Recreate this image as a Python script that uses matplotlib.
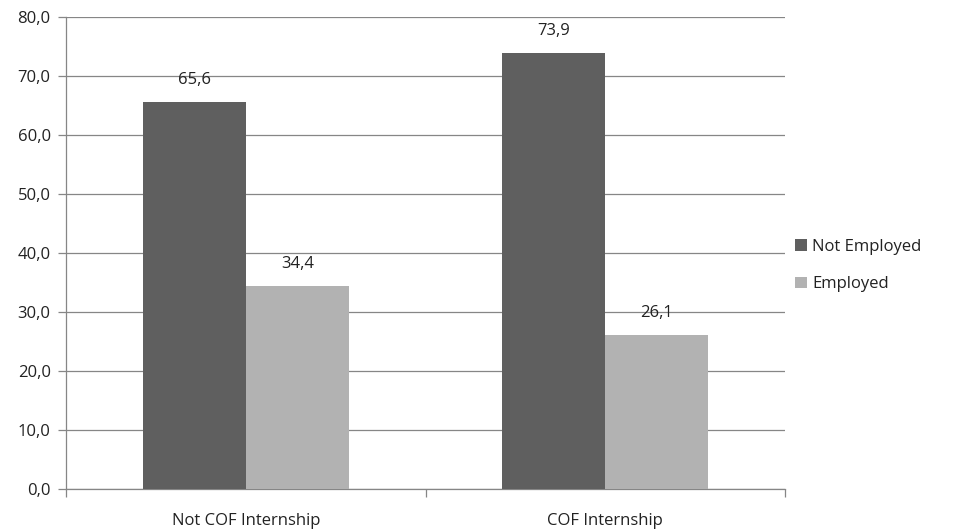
import numpy as np
import matplotlib.pyplot as plt
from matplotlib.ticker import FuncFormatter

# Employment share by internship group (%)
groups = ["Not COF Internship", "COF Internship"]
not_employed = [65.6, 73.9]
employed = [34.4, 26.1]

dark = "#5f5f5f"
light = "#b2b2b2"
axis_grey = "#868686"
fs = 12

plt.rcParams['font.family'] = ['Open Sans', 'DejaVu Sans']

fig = plt.figure(figsize=(9.6, 5.31), dpi=100)
ax = fig.add_axes([0.06875, 0.0791, 0.749, 0.8898])

x = np.arange(len(groups))
w = 0.287

b1 = ax.bar(x - w/2, not_employed, w, color=dark, label="Not Employed", zorder=3)
b2 = ax.bar(x + w/2, employed, w, color=light, label="Employed", zorder=3)

for bars in (b1, b2):
    for rect in bars:
        h = rect.get_height()
        ax.annotate(f"{h:.1f}".replace(".", ","),
                    (rect.get_x() + rect.get_width()/2, h),
                    xytext=(0, 10), textcoords="offset points",
                    ha="center", va="bottom", fontsize=fs, color="#222222")

ax.set_xlim(-0.5, 1.5)
ax.set_ylim(0, 80)
ax.set_yticks(np.arange(0, 81, 10))
ax.yaxis.set_major_formatter(FuncFormatter(lambda v, p: f"{v:.1f}".replace(".", ",")))
ax.yaxis.grid(True, color=axis_grey, linewidth=0.9, zorder=0)

# category boundary ticks below the axis, labels centred between them
ax.set_xticks([-0.5, 0.5, 1.5])
ax.set_xticklabels([])
ax.set_xticks(x, minor=True)
ax.set_xticklabels(groups, minor=True)
ax.tick_params(axis="x", which="minor", length=0, pad=17, labelsize=fs, labelcolor="#222222")
ax.tick_params(axis="x", which="major", length=6, color=axis_grey, width=0.9)
ax.tick_params(axis="y", length=6, color=axis_grey, width=0.9, labelsize=fs,
               labelcolor="#222222", pad=5)

for s in ("top", "right"):
    ax.spines[s].set_visible(False)
for s in ("left", "bottom"):
    ax.spines[s].set_color(axis_grey)
    ax.spines[s].set_linewidth(0.9)

ax.legend(loc="center left", bbox_to_anchor=(1.005, 0.473), frameon=False,
          borderaxespad=0, fontsize=fs, handlelength=0.7, handleheight=0.7,
          handletextpad=0.3, labelspacing=1.3, labelcolor="#222222")

fig.savefig("out.png", dpi=100)
